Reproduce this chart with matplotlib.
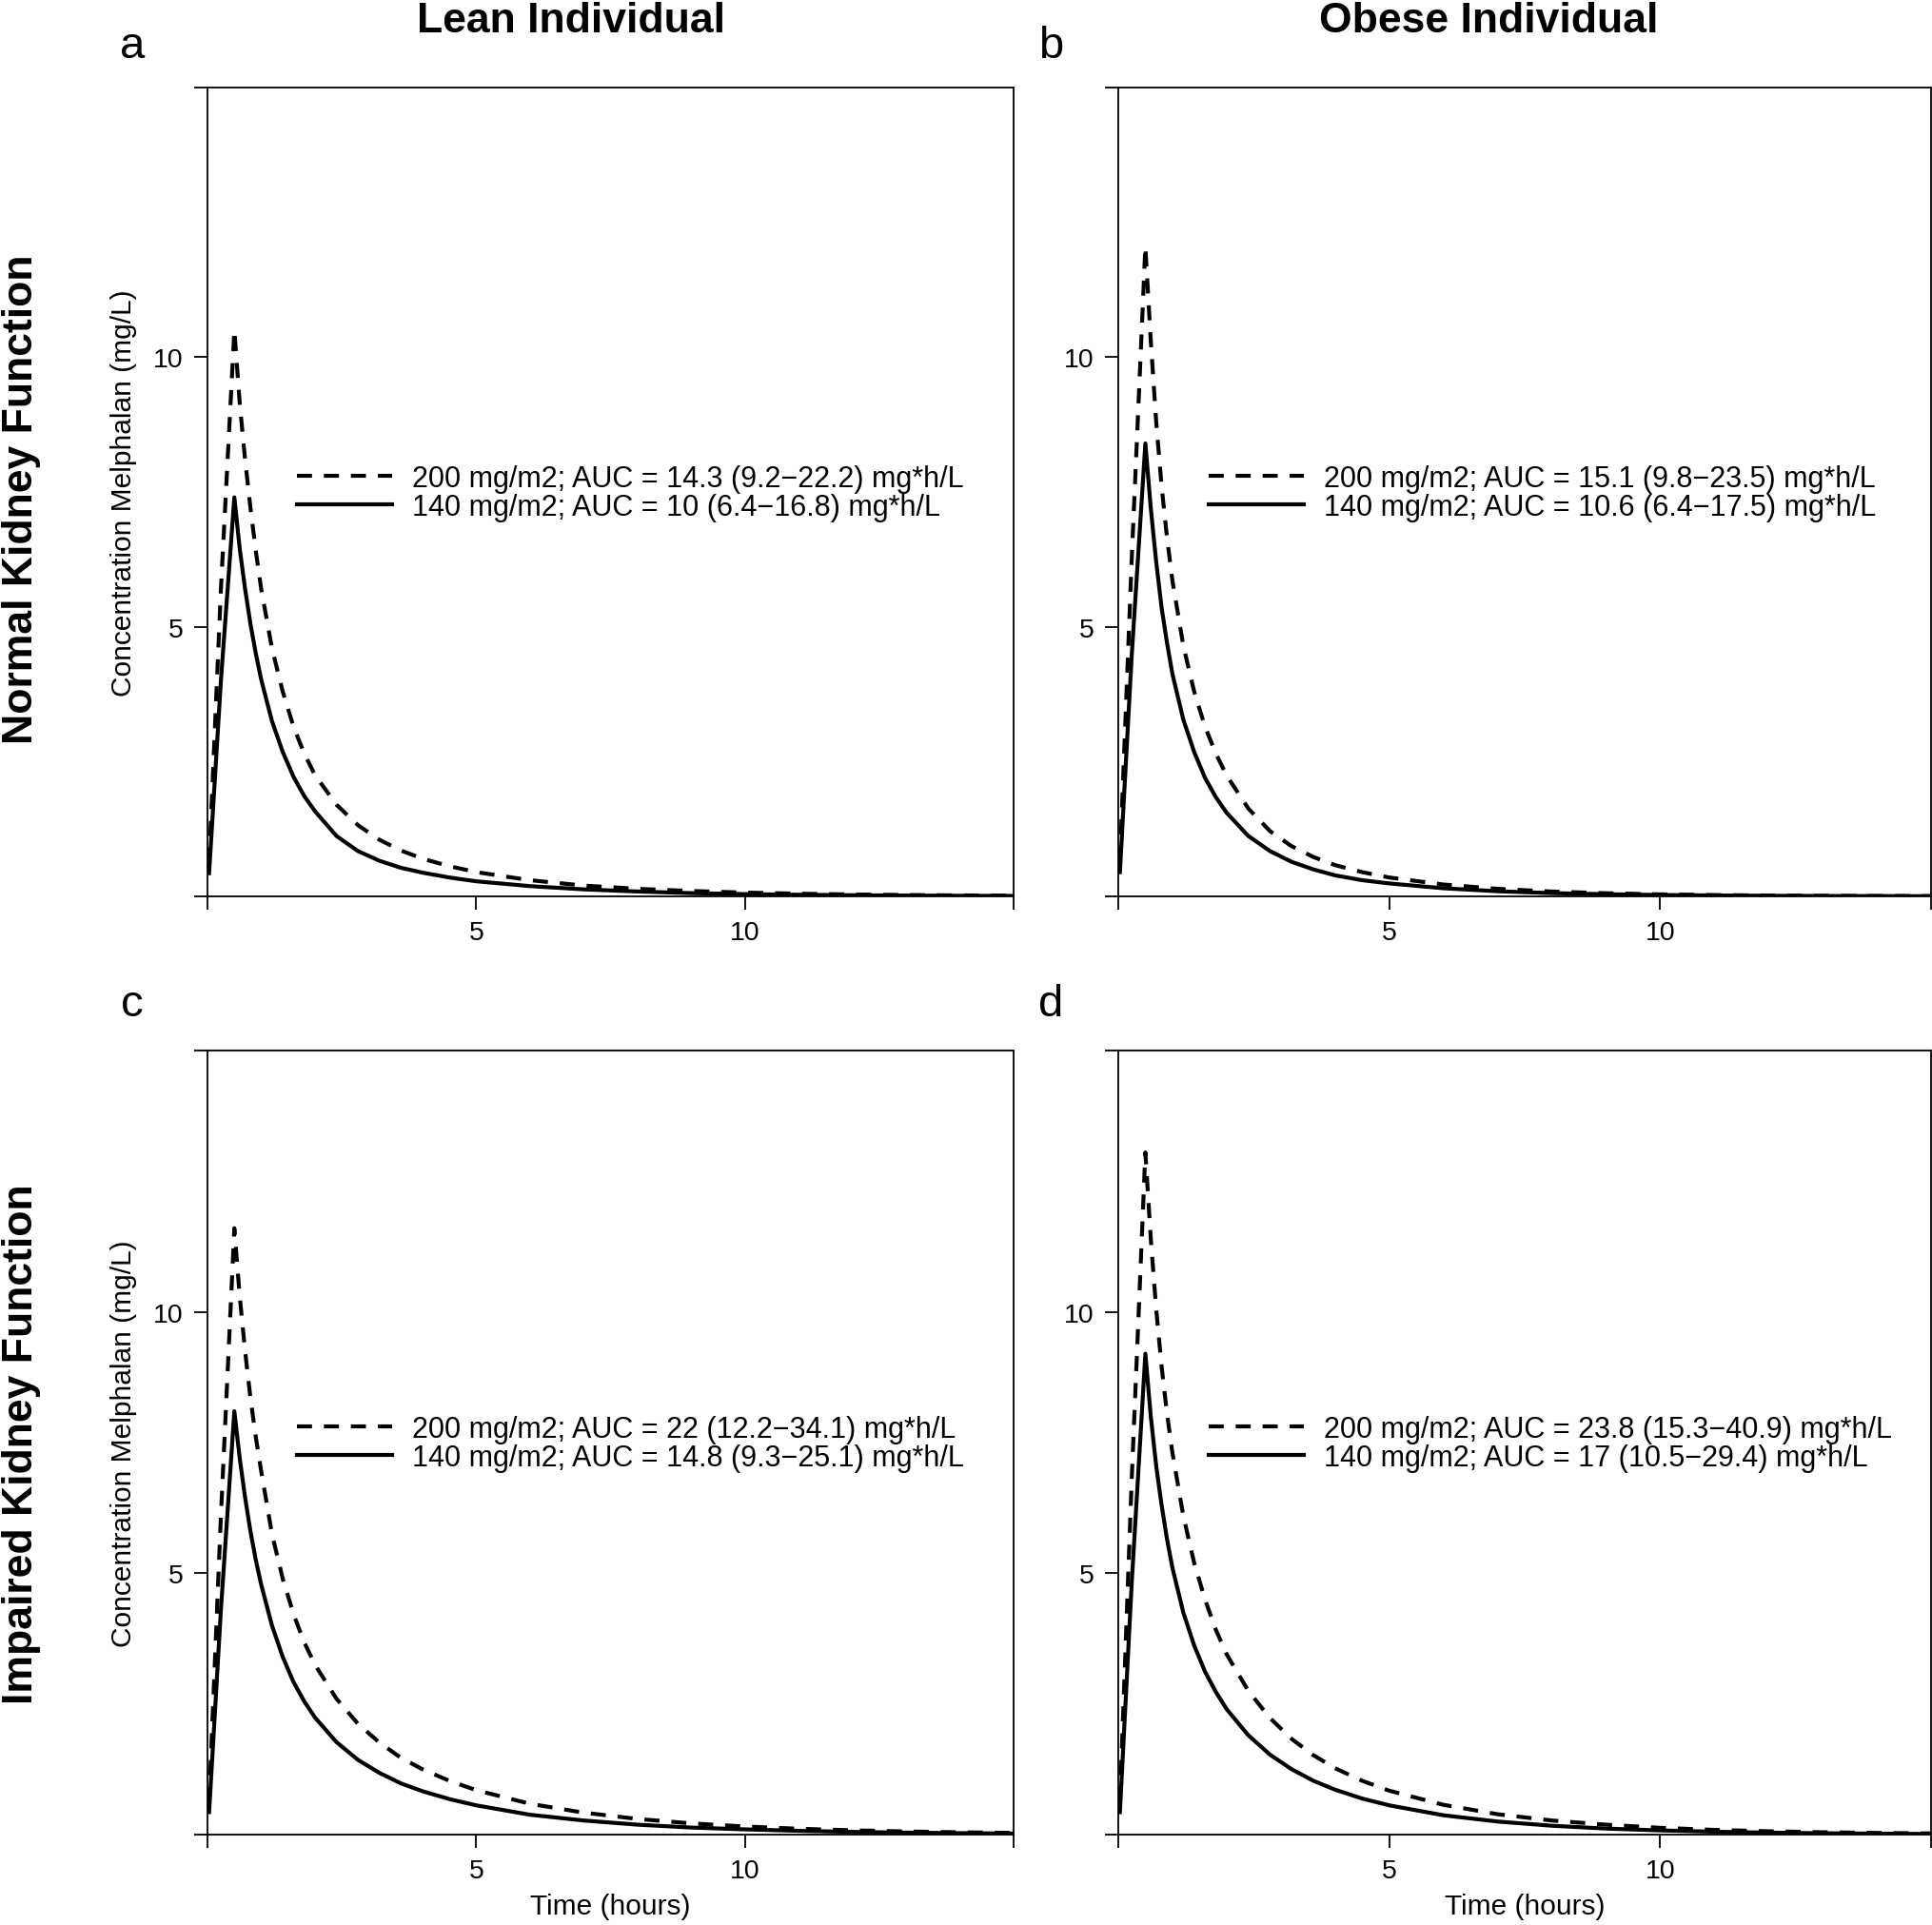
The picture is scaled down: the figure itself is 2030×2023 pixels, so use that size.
import matplotlib
matplotlib.use("Agg")
import matplotlib.pyplot as plt

plt.rcParams['font.family'] = ['Liberation Sans', 'DejaVu Sans']

# time grid (hours)
time_h = [0.03, 0.25, 0.5, 0.6, 0.7, 0.8, 0.9, 1.0, 1.2, 1.4, 1.6, 1.8, 2.0, 2.4, 2.8,
          3.2, 3.6, 4.0, 4.5, 5, 6, 7, 8, 9, 10, 11, 12, 13, 14, 15]

# a: lean, normal kidney
a_140 = [0.43, 4.0, 7.4, 6.45, 5.7, 5.05, 4.5, 4.02, 3.25, 2.68, 2.22, 1.86, 1.58, 1.12, 0.84,
         0.66, 0.53, 0.44, 0.35, 0.28, 0.19, 0.13, 0.09, 0.06, 0.042, 0.03, 0.021, 0.015, 0.011, 0.008]
a_200 = [0.62, 5.7, 10.5, 9.15, 8.1, 7.2, 6.4, 5.7, 4.6, 3.8, 3.15, 2.65, 2.25, 1.7, 1.32,
         1.05, 0.85, 0.7, 0.56, 0.45, 0.3, 0.2, 0.14, 0.1, 0.07, 0.05, 0.035, 0.025, 0.018, 0.013]
# b: obese, normal kidney
b_140 = [0.45, 4.5, 8.4, 7.2, 6.2, 5.35, 4.7, 4.12, 3.28, 2.68, 2.2, 1.84, 1.55, 1.12, 0.84,
         0.64, 0.5, 0.39, 0.3, 0.24, 0.15, 0.095, 0.06, 0.04, 0.026, 0.017, 0.011, 0.007, 0.005, 0.003]
b_200 = [0.65, 6.3, 12.05, 10.3, 8.8, 7.6, 6.65, 5.85, 4.65, 3.8, 3.15, 2.65, 2.24, 1.63, 1.21,
         0.93, 0.73, 0.58, 0.45, 0.35, 0.22, 0.14, 0.09, 0.058, 0.037, 0.024, 0.016, 0.01, 0.007, 0.005]
# c: lean, impaired kidney
c_140 = [0.43, 4.3, 8.1, 7.2, 6.45, 5.8, 5.25, 4.78, 4.0, 3.4, 2.92, 2.55, 2.24, 1.77, 1.43,
         1.18, 0.98, 0.83, 0.68, 0.56, 0.38, 0.27, 0.19, 0.135, 0.1, 0.072, 0.052, 0.038, 0.028, 0.02]
c_200 = [0.62, 6.1, 11.6, 10.3, 9.25, 8.35, 7.6, 6.95, 5.75, 4.9, 4.22, 3.68, 3.25, 2.6, 2.12,
         1.76, 1.47, 1.25, 1.03, 0.85, 0.59, 0.42, 0.3, 0.215, 0.155, 0.112, 0.082, 0.06, 0.044, 0.032]
# d: obese, impaired kidney
d_140 = [0.43, 4.85, 9.2, 8.0, 7.05, 6.3, 5.65, 5.1, 4.25, 3.62, 3.12, 2.73, 2.4, 1.9, 1.53,
         1.25, 1.03, 0.86, 0.69, 0.56, 0.37, 0.25, 0.17, 0.115, 0.08, 0.055, 0.038, 0.026, 0.018, 0.012]
d_200 = [0.62, 6.85, 13.05, 11.4, 10.05, 8.95, 8.05, 7.3, 6.1, 5.2, 4.5, 3.92, 3.45, 2.75, 2.23,
         1.83, 1.52, 1.27, 1.03, 0.84, 0.57, 0.39, 0.27, 0.19, 0.13, 0.09, 0.064, 0.045, 0.032, 0.023]

leg_200 = ["200 mg/m2; AUC = 14.3 (9.2\u221222.2) mg*h/L",
           "200 mg/m2; AUC = 15.1 (9.8\u221223.5) mg*h/L",
           "200 mg/m2; AUC = 22 (12.2\u221234.1) mg*h/L",
           "200 mg/m2; AUC = 23.8 (15.3\u221240.9) mg*h/L"]
leg_140 = ["140 mg/m2; AUC = 10 (6.4\u221216.8) mg*h/L",
           "140 mg/m2; AUC = 10.6 (6.4\u221217.5) mg*h/L",
           "140 mg/m2; AUC = 14.8 (9.3\u221225.1) mg*h/L",
           "140 mg/m2; AUC = 17 (10.5\u221229.4) mg*h/L"]
panel_letters = ["a", "b", "c", "d"]
ticks = [0, 5, 10, 15]
tick_labels = ["", "5", "10", ""]

W, H = 2031, 2024
fig = plt.figure(figsize=(W / 100, H / 100), dpi=100)

# panel boxes in pixels: left, top, right, bottom
boxes = [(218, 93, 1065, 943), (1175, 93, 2029, 943),
         (218, 1105, 1065, 1929), (1175, 1105, 2029, 1929)]
series = [(a_200, a_140), (b_200, b_140), (c_200, c_140), (d_200, d_140)]

fs = 20.5
for i, (l, t, r, b) in enumerate(boxes):
    ax = fig.add_axes([l / W, 1 - b / H, (r - l) / W, (b - t) / H])
    hi, lo = series[i]
    l1, = ax.plot(time_h, hi, color='black', lw=3.0, linestyle=(0, (3.8, 3.0)))
    l2, = ax.plot(time_h, lo, color='black', lw=3.0)
    ax.set_xlim(0, 15)
    ax.set_ylim(0, 15)
    ax.set_xticks(ticks)
    ax.set_xticklabels(tick_labels)
    ax.set_yticks(ticks)
    ax.set_yticklabels(tick_labels)
    ax.tick_params(direction='out', length=10, width=1.3, labelsize=fs, pad=8)
    for s in ax.spines.values():
        s.set_linewidth(1.3)
    ax.legend([l1, l2], [leg_200[i], leg_140[i]], loc='center left',
              bbox_to_anchor=(1.67 / 15, 7.48 / 15), frameon=False, fontsize=22,
              handlelength=3.27, handletextpad=0.68, labelspacing=0.0,
              borderpad=0, borderaxespad=0)
    fig.text((1104 if i % 2 else 139) / W, 1 - (49 if i < 2 else 1056) / H,
             panel_letters[i], fontsize=34, ha='center', va='center')
    if i % 2 == 0:
        fig.text(130 / W, 1 - (t + b) / 2 / H, "Concentration Melphalan (mg/L)",
                 rotation=90, fontsize=21.5, ha='center', va='center')
    if i >= 2:
        fig.text((l + r) / 2 / W, 1 - 2004 / H, "Time (hours)",
                 fontsize=21.5, ha='center', va='center')

fig.text(600 / W, 1 - 23 / H, "Lean Individual", fontsize=32, fontweight='bold',
         ha='center', va='center')
fig.text(1564 / W, 1 - 23 / H, "Obese Individual", fontsize=32, fontweight='bold',
         ha='center', va='center')
fig.text(23 / W, 1 - 525 / H, "Normal Kidney Function", rotation=90, fontsize=32,
         fontweight='bold', ha='center', va='center')
fig.text(23 / W, 1 - 1518 / H, "Impaired Kidney Function", rotation=90, fontsize=32,
         fontweight='bold', ha='center', va='center')

fig.savefig("out.png", dpi=100)
